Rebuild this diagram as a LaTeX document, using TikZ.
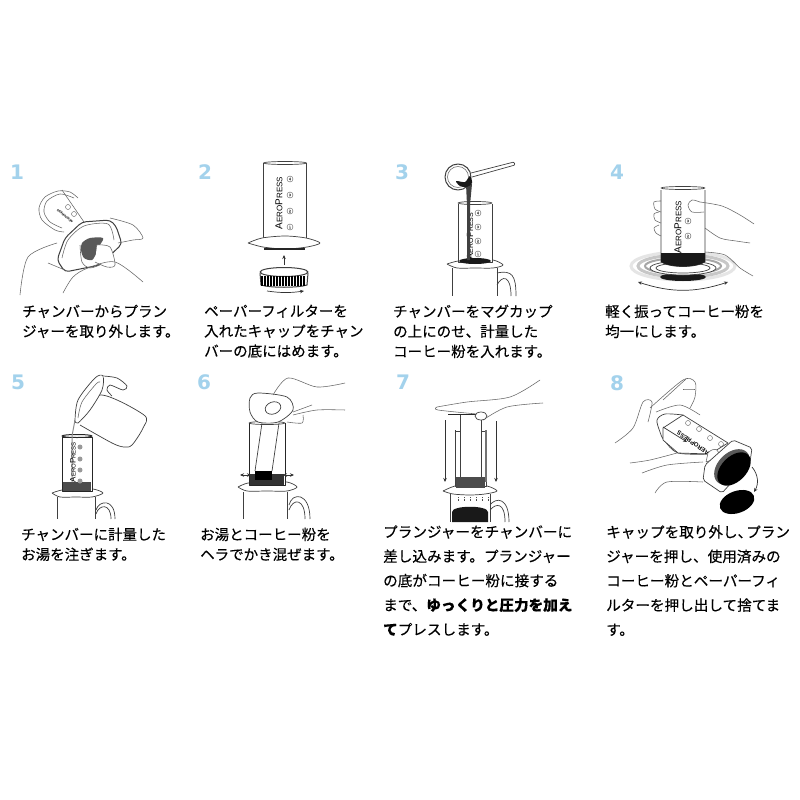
\documentclass[tikz,border=0pt]{standalone}
\usepackage{fontspec}
\setmainfont{Noto Sans CJK JP}[FakeBold=0.25]
\newfontfamily\apfont{Liberation Sans}
\newfontfamily\numfont{DejaVu Sans}
\usetikzlibrary{arrows.meta, shapes.geometric}
\definecolor{stepblue}{HTML}{A3D2EC}
\definecolor{inkgray}{HTML}{404040}
\newcommand{\aeropress}[2]{{\apfont\fontsize{#1}{#1}\selectfont A\fontsize{#2}{#2}\selectfont ERO\fontsize{#1}{#1}\selectfont P\fontsize{#2}{#2}\selectfont RESS}}
\tikzset{
    stepnum/.style={font=\numfont\bfseries\fontsize{20}{20}\selectfont, text=stepblue, inner sep=0pt},
    steptext/.style={font=\fontsize{14.5}{20}\selectfont, anchor=north west, align=left, inner sep=0pt, text=black, execute at begin node=\strut},
    longtext/.style={steptext, font=\fontsize{14.6}{24.4}\selectfont},
    ln/.style={draw=inkgray, line width=0.7pt, line join=round},
    thk/.style={draw=black!85, line width=1pt, line join=round},
    hand/.style={draw=black!60, line width=0.55pt, line join=round},
    body/.style={ln, fill=white},
    coffee/.style={fill=black!90, draw=none},
    ringmark/.style={circle, draw=black!65, line width=0.4pt, minimum size=6pt, inner sep=0pt, font=\fontsize{3.5}{3.5}\selectfont, text=black!70},
    tip/.style={draw=black!80, line width=0.7pt, -{Stealth[length=4pt,width=3.5pt]}},
    tips/.style={draw=black!80, line width=0.7pt, {Stealth[length=4pt,width=3.5pt]}-{Stealth[length=4pt,width=3.5pt]}},
}
\begin{document}
\begin{tikzpicture}[x=1pt, y=-1pt]
    \useasboundingbox (0,0) rectangle (800,800);
    \fill[white] (0,0) rectangle (800,800);

    % step numbers
    \foreach \n/\x/\y in {1/17/172,2/205/172,3/402/172,4/617/172,5/18/382,6/204/382,7/403/382,8/617/383} {
        \node[stepnum] (num\n) at (\x,\y) {\n};
    }

    % 1
    \draw[hand] plot[smooth] coordinates {(78,198) (70,192) (58,191) (45,197) (39,208) (42,220) (55,230) (64,232)};
    \draw[hand] plot[smooth] coordinates {(74,198) (60,194) (47,201) (44,212) (50,222) (62,228)};
    \draw[hand] (62,190) -- (84,222);
    \node[ringmark, minimum size=5pt] (ra) at (68,207) {};
    \node[ringmark, minimum size=5pt] (rb) at (74,214) {};
    \node[rotate=140, inner sep=0pt, font=\apfont\bfseries\fontsize{3.2}{3.2}\selectfont] (apa) at (65,216) {AEROPRESS};
    \draw[body, line width=1pt, rounded corners=4pt] (57,260) -- (65,238) -- (82,222) -- (110,220) -- (116,226) -- (122,244) -- (100,265) -- (65,272) -- cycle;
    \draw[hand] plot[smooth] coordinates {(62,258) (68,240) (84,226) (108,224) (114,240)};
    \draw[hand] plot[smooth] coordinates {(80,245) (82,262) (90,268) (102,264)};
    \fill[black!65] plot[smooth cycle] coordinates {(82,243) (90,238) (103,238) (100,245) (97,252) (92,260) (84,258) (81,250)};
    \draw[hand, fill=white] plot[smooth] coordinates {(97,245) (110,247) (115,265) (107,267) (95,262)};
    \draw[hand] plot[smooth] coordinates {(20,295) (28,257) (57,243)};
    \draw[hand] plot[smooth] coordinates {(48,263) (60,268) (65,270)};
    \draw[hand] plot[smooth] coordinates {(110,218) (133,225) (143,238) (133,240) (118,243)};
    \draw[hand] plot[smooth] coordinates {(63,293) (73,277) (88,268) (115,262) (143,282)};

    % 2
    \draw[body] (263,163) -- (263,238) -- (306,238) -- (306,163);
    \draw[ln] (285,163) ellipse [x radius=21.5, y radius=1.5];
    \draw[ln, fill=white] plot[smooth] coordinates {(248,243) (262,238) (285,236) (306,238) (320,243) (307,247) (285,249) (263,247) (248,243)};
    \draw[thk, line width=1.3pt] (264,249) -- (305,249);
    \node[rotate=90, inner sep=0pt] (ap2) at (279,203) {\aeropress{10}{8}};
    \foreach \y/\n in {179/4,195/3,211/2,227/1} {
        \node[ringmark] (pb\n) at (290,\y) {\n};
    }
    \coordinate (capup) at (284,265);
    \coordinate (capend) at (284,255);
    \draw[tip] (capup) -- (capend);
    \draw[body, line width=1pt] (260,273) -- (261,285) .. controls (270,288) and (298,288) .. (307,285) -- (308,273);
    \draw[ln, line width=1pt, fill=white] (284,272) ellipse [x radius=24, y radius=4.5];
    \foreach \x in {262,265,...,306} {
        \draw[black, line width=1.5pt] (\x,276) -- (\x,286);
    }
    \coordinate (turna) at (267,291);
    \coordinate (turnb) at (304,291);
    \draw[tip] (turna) to[bend right=8] (turnb);

    % 3
    \draw[body] (452,268) -- (452,296);
    \draw[ln] (497,273) .. controls (512,270) and (516,275) .. (516,296);
    \draw[ln] (497,285) .. controls (502,275) and (511,275) .. (511,296);
    \draw[ln] (497,268) -- (497,296);
    \draw[ln, fill=white] plot[smooth] coordinates {(447,264) (458,261) (475,260) (493,260) (503,265) (493,268) (475,268) (457,268) (447,264)};
    \draw[body] (458,204) -- (458,262) -- (492,262) -- (492,204);
    \draw[ln] (475,203) ellipse [x radius=17, y radius=1.5];
    \node[rotate=90, inner sep=0pt] (ap3) at (470,236) {\aeropress{9}{7}};
    \foreach \y/\n in {213/4,227/3,241/2,254/1} {
        \node[ringmark] (pc\n) at (478,\y) {\n};
    }
    \fill[coffee] (475,261) ellipse [x radius=16, y radius=3];
    \draw[body, line width=1pt] (458,177) circle (13);
    \draw[hand] (458,177) circle (10.5);
    \fill[black!75] (466,184) -- (472,184) -- (470,205) -- (470,260) -- (467,260) -- (467,205) -- cycle;
    \fill[coffee] plot[smooth cycle] coordinates {(456,181) (465,182) (470,176) (472,183) (467,187) (460,186)};
    \draw[body, rounded corners=1pt] (471,173) -- (514,162) -- (515,165) -- (472,177);

    % 4
    \draw[black!10, line width=3pt] (683,266) ellipse [x radius=52, y radius=14];
    \draw[black!22, line width=3pt] (683,266) ellipse [x radius=45, y radius=11];
    \draw[black!35, line width=2pt] (683,266) ellipse [x radius=38, y radius=8];
    \fill[coffee] (683,277) ellipse [x radius=23, y radius=4];
    \draw[body] (683,268) ellipse [x radius=33, y radius=7];
    \draw[ln] (683,268) ellipse [x radius=27, y radius=5];
    \draw[body] (661,190) -- (661,262) .. controls (670,268) and (696,268) .. (705,262) -- (705,190);
    \draw[ln] (683,188) ellipse [x radius=22, y radius=1.5];
    \fill[coffee] (661,253) -- (705,253) -- (705,262) .. controls (696,268) and (670,268) .. (661,262) -- cycle;
    \node[rotate=90, inner sep=0pt] (ap4) at (678,227) {\aeropress{10}{8}};
    \foreach \y/\n in {221/3,236/2} {
        \node[ringmark] (pd\n) at (688,\y) {\n};
    }
    \draw[hand] plot[smooth] coordinates {(661,201) (654,202) (655,209) (661,212)};
    \draw[hand] plot[smooth] coordinates {(659,212) (654,214) (655,220) (661,223)};
    \draw[hand] plot[smooth] coordinates {(659,225) (654,228) (656,233) (661,236)};
    \draw[hand, fill=white] plot[smooth] coordinates {(700,202) (692,200) (688,205) (692,212) (704,212)};
    \draw[hand] plot[smooth] coordinates {(700,202) (722,206) (740,215) (754,224)};
    \draw[hand] plot[smooth] coordinates {(705,228) (720,238) (736,241) (750,243)};
    \draw[hand] plot[smooth] coordinates {(705,252) (725,255) (740,268) (753,276)};
    \coordinate (swinga) at (638,282);
    \coordinate (swingb) at (728,282);
    \draw[tips] (swinga) to[bend right=18] (swingb);

    % 5
    \draw[ln] (57,497) -- (57,519);
    \draw[ln] (95,497) -- (95,519);
    \draw[ln] (96,510) .. controls (99,500) and (115,498) .. (115,519);
    \draw[ln] (96,514) .. controls (99,504) and (111,503) .. (111,519);
    \draw[ln, fill=white] plot[smooth] coordinates {(52,493) (62,490) (78,489) (93,489) (103,493) (92,497) (76,497) (60,497) (52,493)};
    \draw[thk, fill=white] (62,437) rectangle (92,491);
    \draw[thk] (77,436) ellipse [x radius=15, y radius=1.5];
    \fill[black!70] (63,482) rectangle (91,491);
    \draw[black!45, line width=1pt] (75,420) -- (72,436) -- (72,482);
    \node[rotate=90, inner sep=0pt] (ap5) at (73,462) {\aeropress{8}{6}};
    \foreach \y [count=\i] in {447,459,470,481} {
        \node[circle, fill=black!40, minimum size=5pt, inner sep=0pt] (pe\i) at (80,\y) {};
    }
    \draw[body] plot[smooth] coordinates {(78,422) (100,395) (144,415) (143,428) (132,445) (124,447) (112,443) (80,425)};
    \draw[ln, fill=white] plot[smooth] coordinates {(75,421) (78,400) (95,378) (103,376) (102,390) (90,410) (78,423) (75,421)};
    \draw[hand] plot[smooth] coordinates {(78,418) (82,402) (96,384) (100,382)};
    \draw[ln, fill=white] plot[smooth] coordinates {(103,376) (117,378) (127,386) (123,390) (110,385) (107,390) (112,396)};

    % 6
    \draw[ln] (243,492) -- (243,519);
    \draw[ln] (287,492) -- (287,519);
    \draw[ln] (289,505) .. controls (292,492) and (310,492) .. (310,519);
    \draw[ln] (289,510) .. controls (293,498) and (305,498) .. (305,519);
    \draw[ln, fill=white] plot[smooth] coordinates {(238,487) (248,483) (267,482) (287,482) (297,487) (287,491) (267,491) (247,491) (238,487)};
    \draw[thk, fill=white] (249,423) -- (249,485) -- (285,485) -- (285,423);
    \draw[ln] (267,423) ellipse [x radius=18, y radius=1.5];
    \fill[black!80] (250,474) rectangle (284,485);
    \fill[black] (255,471) rectangle (272,480);
    \draw[ln] (262,423) -- (255,471);
    \draw[ln] (279,423) -- (272,471);
    \draw[ln, fill=white] plot[smooth cycle] coordinates {(250,398) (258,393) (287,397) (293,410) (278,422) (258,422) (250,412)};
    \draw[ln, fill=white, rotate around={20:(273,408)}] (273,408) ellipse [x radius=8, y radius=6];
    \draw[hand] plot[smooth] coordinates {(273,395) (288,378) (317,387) (345,383)};
    \draw[hand] plot[smooth] coordinates {(293,412) (312,405)};
    \draw[hand] plot[smooth] coordinates {(293,415) (317,410) (345,410)};
    \draw[hand] plot[smooth] coordinates {(287,422) (302,423) (303,415)};
    \coordinate (mixa) at (240,475);
    \coordinate (mixb) at (251,475);
    \coordinate (mixc) at (283,475);
    \coordinate (mixd) at (294,475);
    \draw[tips] (mixa) -- (mixb);
    \draw[tips] (mixc) -- (mixd);

    % 7
    \draw[ln] (450,494) -- (450,522);
    \draw[ln] (490,494) -- (490,522);
    \draw[ln] (490,505) .. controls (496,497) and (509,497) .. (509,522);
    \draw[ln] (490,510) .. controls (496,503) and (505,502) .. (505,522);
    \fill[coffee] (452,512) .. controls (452,505) and (488,505) .. (488,512) -- (488,522) -- (452,522) -- cycle;
    \foreach \x in {458,464,...,488} {
        \draw[black!70, line width=0.6pt, densely dotted] (\x,497) -- (\x,501);
    }
    \draw[ln, fill=white] plot[smooth] coordinates {(443,491) (455,486) (470,485) (487,486) (497,491) (485,494) (470,495) (453,494) (443,491)};
    \draw[body] (455,431) -- (455,486) -- (486,486) -- (486,431);
    \draw[ln, line width=1pt] (455,431) -- (486,431);
    \draw[ln, line width=1pt, fill=white] (460,415) -- (460,480) -- (481,480) -- (481,415);
    \draw[ln, line width=1pt] (455,430) -- (455,482);
    \draw[black!55, line width=1.5pt] (486,430) -- (486,482);
    \fill[black!70] (456,477) rectangle (485,488);
    \draw[thk] (448,414) -- (483,414);
    \draw[hand] plot[smooth] coordinates {(437,407) (467,402) (510,397) (540,380)};
    \draw[hand] plot[smooth] coordinates {(437,407) (438,410) (477,414)};
    \draw[hand] plot[smooth] coordinates {(483,420) (507,407) (543,403)};
    \draw[ln, fill=white] (481,416) ellipse [x radius=6, y radius=4];
    \coordinate (pressa) at (445,420);
    \coordinate (pressb) at (445,482);
    \coordinate (pressc) at (496,421);
    \coordinate (pressd) at (496,482);
    \draw[tip] (pressa) -- (pressb);
    \draw[tip] (pressc) -- (pressd);

    % 8
    \draw[hand] plot[smooth] coordinates {(615,443) (633,428) (643,402) (652,402) (648,422)};
    \draw[hand] plot[smooth] coordinates {(650,408) (683,380) (695,382) (695,397) (690,408)};
    \draw[hand] plot[smooth] coordinates {(663,400) (686,379)};
    \draw[hand] plot[smooth] coordinates {(683,389) (695,389)};
    \draw[hand] plot[smooth] coordinates {(656,412) (680,405) (700,415)};
    \draw[body] plot[smooth] coordinates {(683,415) (665,414) (657,420) (660,432) (664,440) (678,453) (710,454)};
    \draw[body] (683,415) -- (728,443) -- (710,454) -- (678,453) -- (663,440) -- (663,428) -- cycle;
    \node[rotate=145, inner sep=0pt, font=\apfont\bfseries\fontsize{6}{6}\selectfont] (ap8) at (693,443) {AEROPRESS};
    \node[ringmark, minimum size=5pt] (pf1) at (688,423) {};
    \node[ringmark, minimum size=5pt] (pf2) at (699,429) {};
    \node[ringmark, minimum size=5pt] (pf3) at (710,438) {};
    \node[ringmark, minimum size=5pt] (pf4) at (721,444) {};
    \coordinate (pusha) at (663,427);
    \coordinate (pushb) at (687,442);
    \draw[tip] (pusha) -- (pushb);
    \draw[hand] plot[smooth] coordinates {(630,463) (650,460) (677,453)};
    \draw[hand] plot[smooth] coordinates {(642,473) (667,465) (703,462)};
    \draw[hand] plot[smooth] coordinates {(655,493) (667,482) (703,482)};
    \draw[hand, fill=white] (708,453) .. controls (714,446) and (722,450) .. (718,458) -- (706,462) -- cycle;
    \draw[body, rounded corners=2pt] (705,465) -- (733,440) -- (752,448) -- (750,462) -- (722,493) -- (703,480) -- cycle;
    \fill[black!65, shift={(732,467)}, rotate=45] (0,0) ellipse [x radius=21, y radius=14];
    \fill[black, shift={(734,469)}, rotate=45] (0,0) ellipse [x radius=20, y radius=12.5];
    \fill[black, shift={(737,502)}, rotate=20] (0,0) ellipse [x radius=18, y radius=11];
    \coordinate (capa) at (752,467);
    \coordinate (capb) at (754,492);
    \draw[tip] (capa) to[bend left=35] (capb);

    % texts
    \node[steptext] (txt1) at (22,304.5) {チャンバーからプラン\\ジャーを取り外します。};
    \node[steptext] (txt2) at (204,304.5) {ペーパーフィルターを\\入れたキャップをチャン\\バーの底にはめます。};
    \node[steptext] (txt3) at (393,304.5) {チャンバーをマグカップ\\の上にのせ、計量した\\コーヒー粉を入れます。};
    \node[steptext] (txt4) at (605,304.5) {軽く振ってコーヒー粉を\\均一にします。};
    \node[steptext] (txt5) at (21,527.5) {チャンバーに計量した\\お湯を注ぎます。};
    \node[steptext] (txt6) at (200,527.5) {お湯とコーヒー粉を\\ヘラでかき混ぜます。};
    \node[longtext] (txt7) at (383,525) {プランジャーをチャンバーに\\差し込みます。プランジャー\\の底がコーヒー粉に接する\\まで、\textbf{ゆっくりと圧力を加え}\\\textbf{て}プレスします。};
    \node[longtext] (txt8) at (606,525) {キャップを取り外し、\hspace{-6pt}プラン\\ジャーを押し、使用済みの\\コーヒー粉とペーパーフィ\\ルターを押し出して捨てま\\す。};
\end{tikzpicture}
\end{document}
